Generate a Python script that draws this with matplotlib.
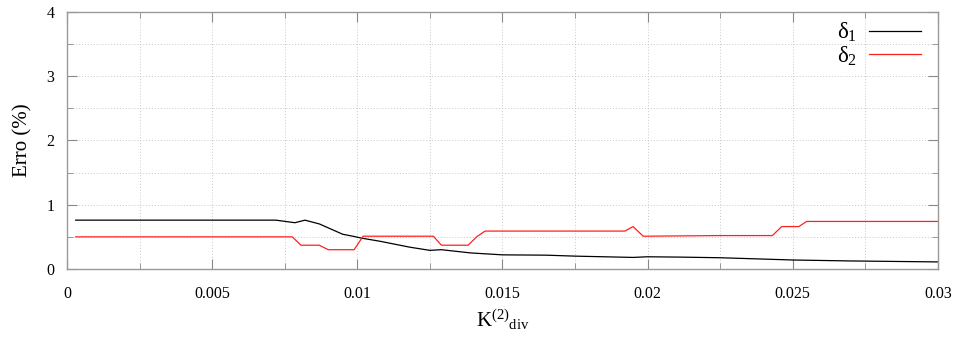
import matplotlib
matplotlib.use("Agg")
import matplotlib.pyplot as plt
from matplotlib.ticker import MultipleLocator, FixedLocator

# delta_1 (black) breakpoints
x1 = [0.0003, 0.0072, 0.00785, 0.0082, 0.0087, 0.0095, 0.00985, 0.01015, 0.0108, 0.0118,
      0.0125, 0.0129, 0.0139, 0.0150, 0.0165, 0.0175, 0.0195, 0.0200, 0.0211, 0.0225,
      0.0250, 0.0270, 0.0300]
y1 = [0.76, 0.76, 0.72, 0.76, 0.70, 0.54, 0.51, 0.48, 0.43, 0.34,
      0.29, 0.30, 0.25, 0.22, 0.215, 0.20, 0.18, 0.19, 0.185, 0.175,
      0.14, 0.125, 0.11]

# delta_2 (red) breakpoints
x2 = [0.0003, 0.00776, 0.00806, 0.00869, 0.0090, 0.00989, 0.0102, 0.01262, 0.0129, 0.01382,
      0.01411, 0.0144, 0.01922, 0.0195, 0.01985, 0.0225, 0.02430, 0.02462, 0.02521, 0.02548,
      0.0300]
y2 = [0.50, 0.50, 0.37, 0.37, 0.30, 0.30, 0.51, 0.51, 0.37, 0.37,
      0.50, 0.59, 0.59, 0.66, 0.51, 0.52, 0.52, 0.66, 0.66, 0.74,
      0.74]

xticks = [0, 0.005, 0.01, 0.015, 0.02, 0.025, 0.03]
xticklabels = ["0", "0.005", "0.01", "0.015", "0.02", "0.025", "0.03"]
yticks = [0, 1, 2, 3, 4]

plt.rcParams['font.family'] = ['Liberation Serif', 'DejaVu Serif']
plt.rcParams['mathtext.fontset'] = 'custom'
plt.rcParams['mathtext.rm'] = 'Liberation Serif'
plt.rcParams['mathtext.it'] = 'Liberation Serif'

fig = plt.figure(figsize=(9.57, 3.42), dpi=100)
ax = fig.add_axes([0.070, 0.2135, 0.910, 0.7515])

ax.plot(x1, y1, color='black', lw=0.9, label=r'$\mathrm{\delta}_1$')
ax.plot(x2, y2, color='#ff2020', lw=0.9, label=r'$\mathrm{\delta}_2$')

ax.set_xlim(0, 0.03)
ax.set_ylim(0, 4)
ax.xaxis.set_major_locator(FixedLocator(xticks))
ax.set_xticklabels(xticklabels)
ax.xaxis.set_minor_locator(MultipleLocator(0.0025))
ax.yaxis.set_major_locator(FixedLocator(yticks))
ax.yaxis.set_minor_locator(MultipleLocator(0.5))

ax.grid(True, which='both', color='#c8c8c8', linestyle=(0, (1, 2)), lw=0.7)
ax.tick_params(which='both', direction='in', top=True, right=True, color='#888888',
               labelsize=11.5)
ax.tick_params(which='major', length=7)
ax.tick_params(which='minor', length=4)
ax.tick_params(axis='x', pad=12)
ax.tick_params(axis='y', pad=9)
for s in ax.spines.values():
    s.set_color('#999999')
    s.set_linewidth(1.0)

ax.set_ylabel('Erro (%)', fontsize=15, labelpad=10)
ax.set_xlabel(r'K$^{(2)}$$_{\mathrm{div}}$', fontsize=15, labelpad=4)

leg = ax.legend(loc='upper right', frameon=False, fontsize=16.5, markerfirst=False,
                handlelength=2.3, handletextpad=0.5, labelspacing=0.0,
                borderaxespad=0.0, bbox_to_anchor=(0.9915, 1.0))

fig.savefig('out.png', dpi=100)
